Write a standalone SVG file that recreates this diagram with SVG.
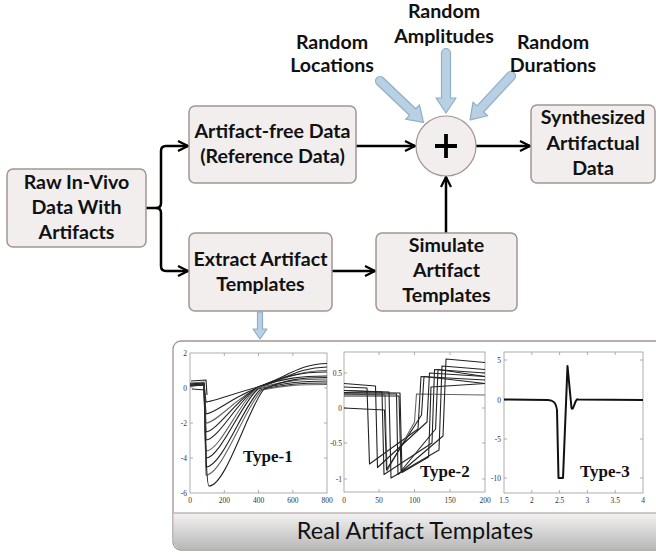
<svg xmlns="http://www.w3.org/2000/svg" xmlns:xlink="http://www.w3.org/1999/xlink" width="656" height="554" viewBox="0 0 656 554">
<style>
.box{fill:#f2eeee;stroke:#a39591;stroke-width:1.5}
.t{font-family:Lato,"Liberation Sans",sans-serif;font-weight:bold;font-size:19.6px;fill:#111;text-anchor:middle}
.con{fill:none;stroke:#000;stroke-width:2.5}
.barrow{fill:#b9d0e3;stroke:#8eaecb;stroke-width:1.2;stroke-linejoin:round}
.ax{fill:none;stroke:#9a9a9a;stroke-width:0.8}
.tk{font-family:"Liberation Serif",serif;font-size:7.5px;fill:#333}
.tr{text-anchor:end}
.tm{text-anchor:middle}
.ty{font-family:"Liberation Serif",serif;font-weight:bold;font-size:17px;fill:#111}
.c1{fill:none;stroke:#222;stroke-width:1.1;stroke-linejoin:round}
.c2{fill:none;stroke:#666;stroke-width:1.1;stroke-linejoin:round}
</style>
<defs>
<marker id="ah" viewBox="0 0 12 12" refX="11" refY="6" markerWidth="12" markerHeight="12" markerUnits="userSpaceOnUse" orient="auto">
<path d="M1,1 L11,6 L1,11" fill="none" stroke="#000" stroke-width="2.2" stroke-linejoin="miter"/>
</marker>
<path id="ba" d="M0,-4.5 L45,-4.5 L45,-10 L60,0 L45,10 L45,4.5 L0,4.5 A4.5,4.5 0 0 1 0,-4.5 Z"/>
<linearGradient id="bar" x1="0" y1="0" x2="0" y2="1">
<stop offset="0" stop-color="#f2f2f2"/>
<stop offset="1" stop-color="#b8b8b8"/>
</linearGradient>
</defs>
<rect width="656" height="554" fill="#fff"/>

<g id="connectors">
<path class="con" d="M146,208 H156 Q161,208 161,203 V151 Q161,146 166,146 H188" marker-end="url(#ah)"/>
<path class="con" d="M156,208 Q161,208 161,213 V266 Q161,271 166,271 H188" marker-end="url(#ah)"/>
<path class="con" d="M356,146 H415" marker-end="url(#ah)"/>
<path class="con" d="M476,146 H530" marker-end="url(#ah)"/>
<path class="con" d="M332,271 H375" marker-end="url(#ah)"/>
<path class="con" d="M446,233 V177" marker-end="url(#ah)"/>
<use href="#ba" class="barrow" transform="translate(380,81) rotate(43.6)"/>
<use href="#ba" class="barrow" transform="translate(446,53) rotate(90)"/>
<use href="#ba" class="barrow" transform="translate(511,76) rotate(133)"/>
<path class="barrow" d="M257.5,312 L262.5,312 L262.5,329 L267,329 L260,339 L253,329 L257.5,329 Z"/>
</g>

<g id="raw">
<rect class="box" x="7" y="169" width="139" height="78" rx="6"/>
<text class="t" x="76.5" y="189">Raw In-Vivo</text>
<text class="t" x="76.5" y="214">Data With</text>
<text class="t" x="76.5" y="239">Artifacts</text>
</g>
<g id="artifactfree">
<rect class="box" x="189" y="106" width="167" height="77" rx="6"/>
<text class="t" x="272.5" y="138">Artifact-free Data</text>
<text class="t" x="272.5" y="163">(Reference Data)</text>
</g>
<g id="extract">
<rect class="box" x="189" y="233" width="143" height="78" rx="6"/>
<text class="t" x="260.5" y="266">Extract Artifact</text>
<text class="t" x="260.5" y="291">Templates</text>
</g>
<g id="simulate">
<rect class="box" x="376" y="233" width="141" height="78" rx="6"/>
<text class="t" x="446.5" y="252">Simulate</text>
<text class="t" x="446.5" y="277">Artifact</text>
<text class="t" x="446.5" y="302">Templates</text>
</g>
<g id="synth">
<rect class="box" x="531" y="105" width="124" height="78" rx="6"/>
<text class="t" x="593" y="124">Synthesized</text>
<text class="t" x="593" y="150">Artifactual</text>
<text class="t" x="593" y="175">Data</text>
</g>
<g id="sum">
<circle cx="446" cy="146" r="30" fill="#f2eeee" stroke="#a39591" stroke-width="1.2"/>
<path d="M435,146 H457 M446,134 V158" stroke="#000" stroke-width="3.8"/>
</g>
<g id="labels">
<text class="t" x="444" y="18">Random</text>
<text class="t" x="444" y="43">Amplitudes</text>
<text class="t" x="332" y="49">Random</text>
<text class="t" x="332" y="72">Locations</text>
<text class="t" x="553" y="49">Random</text>
<text class="t" x="553" y="72">Durations</text>
</g>

<g id="panel">
<rect x="173" y="341" width="500" height="209" rx="8" fill="#fff" stroke="#a39591" stroke-width="1.3"/>
<path d="M173.6,513 H656 V549.4 H181 A8,8 0 0 1 173.6,541.4 Z" fill="url(#bar)"/>
<line x1="173.6" y1="513" x2="656" y2="513" stroke="#a39591" stroke-width="1.2"/>
<text x="415" y="539" font-family="Lato,'Liberation Sans',sans-serif" font-size="23.5" fill="#111" text-anchor="middle">Real Artifact Templates</text>

<g id="plot1">
<rect class="ax" x="190" y="353" width="137" height="140"/>
<path class="ax" d="M224.3,353v3M258.5,353v3M292.8,353v3M224.3,493v-3M258.5,493v-3M292.8,493v-3M190,388h3M190,423h3M190,458h3M327,388h-3M327,423h-3M327,458h-3"/>
<text class="tk tr" x="187" y="356">2</text>
<text class="tk tr" x="187" y="391">0</text>
<text class="tk tr" x="187" y="426">-2</text>
<text class="tk tr" x="187" y="461">-4</text>
<text class="tk tr" x="187" y="496">-6</text>
<text class="tk tm" x="190" y="503">0</text>
<text class="tk tm" x="224.3" y="503">200</text>
<text class="tk tm" x="258.5" y="503">400</text>
<text class="tk tm" x="292.8" y="503">600</text>
<text class="tk tm" x="327" y="503">800</text>
<path class="c1" d="M190,384 L204,383 L206,402 C212,402 232,394 258,387 C285,378 300,363.5 327,363.5"/>
<path class="c1" d="M190,385 L204,384 L206,414 C214,414 234,396 258,388 C285,379 300,367 327,367"/>
<path class="c2" d="M190,383 L204,382 L206,423 C216,423 236,398 258,388 C285,378 300,370.5 327,370.5"/>
<path class="c1" d="M190,386 L204,385 L206,432 C216,432 238,398 258,387 C285,376 300,372 327,372"/>
<path class="c1" d="M190,385 L204,384 L206,440 C218,440 238,400 258,387 C285,378 300,376 327,376"/>
<path class="c2" d="M190,386 L204,385 L206,451 C220,451 240,400 258,388 C285,381 300,379 327,379"/>
<path class="c1" d="M190,384 L204,383 L206,458 C220,458 242,402 258,389 C285,383 300,381 327,381"/>
<path class="c1" d="M190,386 L204,385 L206,467 C222,467 244,404 260,390 C285,384 300,383 327,383"/>
<path class="c2" d="M190,385 L204,384 L206,475 C222,475 246,405 262,390 C285,385 300,384.5 327,384.5"/>
<path class="c1" d="M190,385 L204,384 C205,420 206,486 209,486 C226,486 248,408 264,389 C285,380 300,377.5 327,377.5"/>
<path class="c1" d="M191,381 L206,380 L207,395 M192,389 L205,390"/>
<text class="ty" x="243" y="462">Type-1</text>
</g>

<g id="plot2">
<rect class="ax" x="344" y="352" width="141" height="140"/>
<path class="ax" d="M379,352v3M414.5,352v3M450,352v3M379,492v-3M414.5,492v-3M450,492v-3M344,373h3M344,408h3M344,443h3M344,479h3M485,373h-3M485,408h-3M485,443h-3M485,479h-3"/>
<text class="tk tr" x="342" y="376">0.5</text>
<text class="tk tr" x="342" y="411">0</text>
<text class="tk tr" x="342" y="446">-0.5</text>
<text class="tk tr" x="342" y="482">-1</text>
<text class="tk tm" x="344" y="503">0</text>
<text class="tk tm" x="379" y="503">50</text>
<text class="tk tm" x="414.5" y="503">100</text>
<text class="tk tm" x="450" y="503">150</text>
<text class="tk tm" x="485" y="503">200</text>
<path class="c1" d="M344,387 L367,388 L369.5,464 L418,429 L421,376.5 L485,380"/>
<path class="c1" d="M344,390.5 L382,392 L384,474.5 L432,443 L434.5,369.5 L485,373"/>
<path class="c2" d="M344,394 L385,395 L387,471 L414.5,422 L416.5,394 L485,395"/>
<path class="c1" d="M344,394 L396.5,394 L398,474.5 L443,436 L446,359 L485,362.5"/>
<path class="c1" d="M344,396 L399,396 L401,471 L435.6,429 L438,369.5 L485,376.5"/>
<path class="c1" d="M344,383.5 L375.5,386 L377.5,467.5 L427,422 L429.5,373 L485,376.5"/>
<path class="c1" d="M344,390.5 L389,392 L391,478 L439,450 L442,366 L485,369.5"/>
<path class="c1" d="M344,408 L384.5,410 L386.5,469.6 L421.5,415 L424,376.5 L485,383.5"/>
<path class="c1" d="M344,392.6 L400,393 L402,472.4 L428.6,457 L431,387 L485,383.5"/>
<text class="ty" x="420" y="477">Type-2</text>
</g>

<g id="plot3">
<rect class="ax" x="504" y="352" width="139" height="141"/>
<path class="ax" d="M531.8,352v3M559.6,352v3M587.4,352v3M615.2,352v3M531.8,493v-3M559.6,493v-3M587.4,493v-3M615.2,493v-3M504,360h3M504,400h3M504,439h3M504,478h3M643,360h-3M643,400h-3M643,439h-3M643,478h-3"/>
<text class="tk tr" x="501" y="363">5</text>
<text class="tk tr" x="501" y="403">0</text>
<text class="tk tr" x="501" y="442">-5</text>
<text class="tk tr" x="501" y="481">-10</text>
<text class="tk tm" x="504" y="503">1.5</text>
<text class="tk tm" x="531.8" y="503">2</text>
<text class="tk tm" x="559.6" y="503">2.5</text>
<text class="tk tm" x="587.4" y="503">3</text>
<text class="tk tm" x="615.2" y="503">3.5</text>
<text class="tk tm" x="643" y="503">4</text>
<path d="M504,399.5 L548,400 C553,400 556,402 557,410 L558.5,478 L563,478 L567.5,366 L571.5,408 C573.5,412 575,398 578,399.5 L643,400" fill="none" stroke="#111" stroke-width="2" stroke-linejoin="round"/>
<text class="ty" x="580" y="477">Type-3</text>
</g>
</g>
</svg>
